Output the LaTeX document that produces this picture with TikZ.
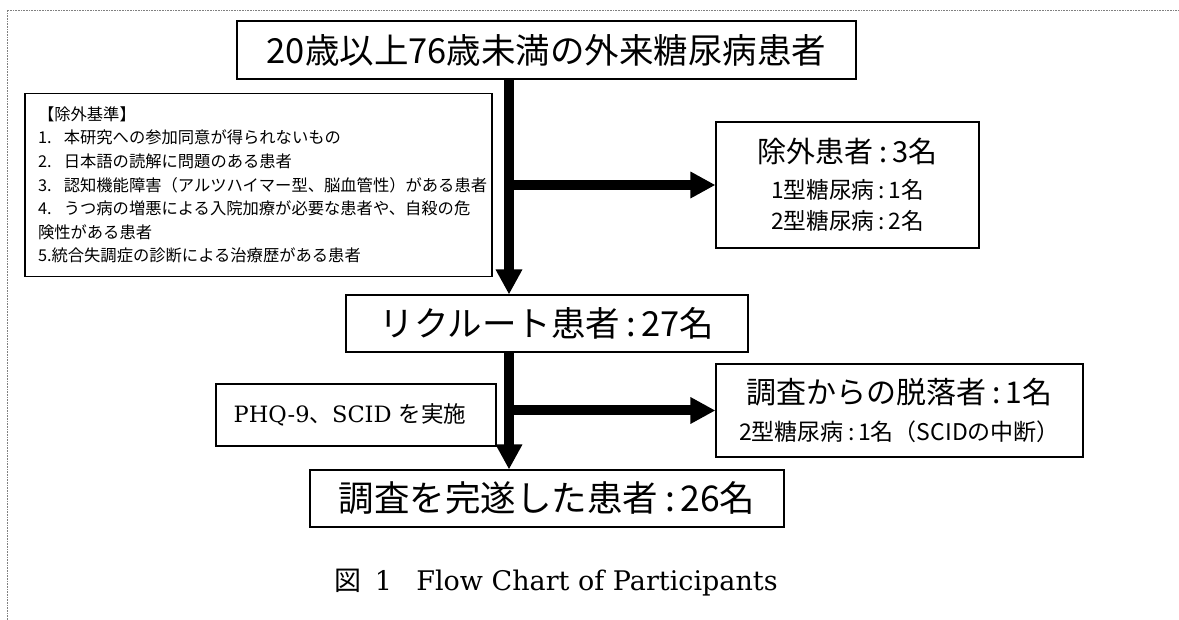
\documentclass[tikz,border=0pt]{standalone}
\usepackage{fontspec}
\usetikzlibrary{arrows.meta}
\newfontfamily\jp{Noto Sans CJK JP}
\newfontfamily\serifx{DejaVu Serif}
\newcommand{\cln}{\hspace{0.2em}:\hspace{0.15em}}
\newcommand{\fixlines}{\setlength{\lineskiplimit}{-50pt}}
\begin{document}
\begin{tikzpicture}[x=1pt,y=-1pt,
  boxed/.style={draw, line width=1.1pt, inner sep=0pt, align=center},
  fat/.style={line width=10pt, -{Triangle[length=25pt,width=25pt]}},
  frame/.style={gray, densely dotted, line width=0.6pt}]
\useasboundingbox (0,0) rectangle (1179,620);
\draw[frame] (7,620) -- (7,10) -- (1179,10);

\node[boxed, minimum width=619pt, minimum height=58pt, font=\jp\fontsize{34.5pt}{38pt}\selectfont] (top) at (546.5,50)
  {20歳以上76歳未満の外来糖尿病患者};

\node[boxed, minimum width=467pt, minimum height=183pt, text width=441pt, align=left,
      font=\jp\fontsize{16.3pt}{23.6pt}\selectfont] (crit) at (258.5,185)
  {\fixlines 【除外基準】\\
   1.\hspace{0.75em}本研究への参加同意が得られないもの\\
   2.\hspace{0.75em}日本語の読解に問題のある患者\\
   3.\hspace{0.75em}認知機能障害（アルツハイマー型、脳血管性）がある患者\\
   4.\hspace{0.75em}うつ病の増悪による入院加療が必要な患者や、自殺の危\\
   険性がある患者\\
   5.統合失調症の診断による治療歴がある患者};

\node[boxed, minimum width=263pt, minimum height=126pt, font=\jp\fontsize{22.7pt}{31pt}\selectfont] (excl) at (847.5,185)
  {{\fontsize{29pt}{32pt}\selectfont 除外患者\cln 3名}\\[5pt]
   1型糖尿病\cln 1名\\
   2型糖尿病\cln 2名};

\node[boxed, minimum width=402pt, minimum height=57pt, font=\jp\fontsize{34.5pt}{38pt}\selectfont] (recr) at (547,323.5)
  {リクルート患者\cln 27名};

\node[boxed, minimum width=280pt, minimum height=62pt, font=\serifx\fontsize{22.5pt}{29pt}\selectfont] (phq) at (356,415)
  {PHQ-9{\jp 、}SCID {\jp を実施}\hspace{12pt}};

\node[boxed, minimum width=367pt, minimum height=93pt, font=\jp\fontsize{23pt}{31pt}\selectfont] (drop) at (899.5,410.5)
  {{\fontsize{30pt}{32pt}\selectfont 調査からの脱落者\cln 1名}\\[6pt]
   2型糖尿病\cln 1名（SCIDの中断）};

\node[boxed, minimum width=474pt, minimum height=57pt, font=\jp\fontsize{35.5pt}{38pt}\selectfont] (done) at (547,498.5)
  {調査を完遂した患者\cln 26名};

\node[inner sep=0pt, font=\serifx\fontsize{27pt}{30pt}\selectfont] (cap) at (556,583)
  {{\jp 図}\hspace{0.5em}1\hspace{0.9em}Flow Chart of Participants};

\coordinate (k) at (509,0);
\draw[fat] (top.south -| k) -- (recr.north -| k);
\draw[fat] (k |- excl.west) -- (excl.west);
\draw[fat] (recr.south -| k) -- (done.north -| k);
\draw[fat] (k |- drop.west) -- (drop.west);
\end{tikzpicture}
\end{document}
